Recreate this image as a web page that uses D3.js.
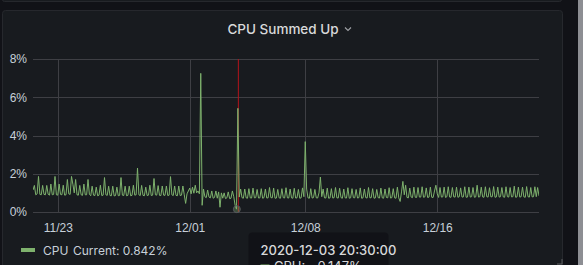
<!DOCTYPE html>
<html>
<head>
<meta charset="utf-8">
<script src="https://cdn.jsdelivr.net/npm/d3@7"></script>
<style>
  html, body { margin: 0; padding: 0; background: #111217; overflow: hidden; }
  svg { display: block; font-family: Inter, Roboto, "Noto Sans", sans-serif; }
  .tick text { fill: #c7d0d9; font-size: 12px; }
  .grid line { stroke: #3e3f44; stroke-width: 1; shape-rendering: crispEdges; }
</style>
</head>
<body>
<div id="chart"></div>
<script>
// series: CPU %, one sample every 2 hours from 2020-11-21 12:00
const seriesName = "CPU";
const seriesStart = new Date(2020, 10, 21, 12, 0, 0);
const stepHours = 2;
const cpuValues = [
  // 11/21 (from 12:00)
  1.15, 1.39, 0.90, 0.95, 1.86, 0.92,
  // 11/22
  0.90, 1.39, 0.92, 0.90, 1.39, 0.93, 0.88, 1.46, 0.90, 0.92, 1.86, 0.90,
  // 11/23
  0.88, 1.46, 0.92, 0.90, 1.40, 0.88, 0.90, 1.70, 0.95, 0.92, 1.86, 1.45,
  // 11/24
  1.00, 1.70, 0.90, 0.88, 1.39, 0.90, 0.87, 1.46, 0.90, 0.90, 1.70, 0.92,
  // 11/25
  0.85, 1.35, 0.88, 0.86, 1.30, 0.85, 0.88, 1.40, 0.86, 0.88, 1.80, 0.90,
  // 11/26
  0.87, 1.35, 0.86, 0.85, 1.35, 0.84, 0.86, 1.30, 0.85, 0.87, 1.80, 0.88,
  // 11/27
  0.86, 1.35, 0.85, 0.87, 1.35, 0.85, 0.87, 1.40, 0.88, 0.90, 2.30, 0.90,
  // 11/28
  0.86, 1.39, 0.87, 0.85, 1.30, 0.86, 0.88, 1.40, 0.86, 0.88, 1.75, 0.90,
  // 11/29
  0.88, 1.38, 0.87, 0.86, 1.36, 0.88, 0.87, 1.36, 0.86, 0.88, 1.85, 0.90,
  // 11/30
  0.86, 1.36, 0.87, 0.85, 1.36, 0.86, 0.88, 1.36, 0.90, 0.45, 0.95, 1.10,
  // 12/01
  1.25, 0.95, 1.30, 0.98, 1.40, 1.00, 1.10, 0.95, 7.25, 0.35, 1.20, 0.80,
  // 12/02
  0.75, 1.15, 0.78, 0.74, 1.10, 0.72, 0.76, 1.10, 0.72, 1.05, 0.25, 1.00,
  // 12/03
  0.72, 1.00, 0.70, 0.74, 1.05, 0.70, 0.72, 1.10, 0.80, 0.35, 0.15, 5.42,
  // 12/04
  0.78, 1.20, 0.75, 0.72, 1.20, 0.74, 0.72, 1.22, 0.74, 0.73, 1.25, 0.74,
  // 12/05
  0.75, 1.18, 0.73, 0.74, 1.22, 0.72, 0.75, 1.20, 0.73, 0.74, 1.28, 0.75,
  // 12/06
  0.74, 1.25, 0.72, 0.73, 1.18, 0.74, 0.72, 1.22, 0.75, 0.73, 1.27, 0.74,
  // 12/07
  0.73, 1.20, 0.74, 0.72, 1.24, 0.73, 0.74, 1.18, 0.72, 0.74, 1.26, 0.80,
  // 12/08
  3.68, 1.20, 0.74, 0.72, 1.22, 0.73, 0.75, 1.18, 0.74, 0.73, 1.00, 1.83,
  // 12/09
  0.80, 1.20, 0.74, 0.73, 1.25, 0.72, 0.74, 1.22, 0.73, 0.75, 1.28, 0.74,
  // 12/10
  0.73, 1.24, 0.75, 0.72, 1.20, 0.74, 0.73, 1.27, 0.72, 0.74, 1.22, 0.75,
  // 12/11
  0.74, 1.18, 0.73, 0.75, 1.26, 0.72, 0.74, 1.20, 0.75, 0.73, 1.28, 0.74,
  // 12/12
  0.75, 1.22, 0.72, 0.74, 1.18, 0.75, 0.73, 1.25, 0.74, 0.72, 1.20, 0.76,
  // 12/13
  0.74, 1.27, 0.73, 0.75, 1.22, 0.74, 0.72, 1.30, 0.74, 0.55, 1.05, 1.60,
  // 12/14
  0.90, 1.40, 0.76, 0.74, 1.25, 0.78, 0.75, 1.30, 0.77, 0.76, 1.28, 0.78,
  // 12/15
  0.78, 1.32, 0.77, 0.79, 1.26, 0.76, 0.78, 1.30, 0.77, 0.76, 1.10, 1.40,
  // 12/16
  0.95, 0.76, 1.28, 0.78, 0.79, 1.30, 0.76, 0.80, 1.32, 0.78, 0.77, 1.28,
  // 12/17
  0.79, 0.78, 1.30, 0.77, 0.80, 1.26, 0.78, 0.79, 1.32, 0.77, 0.78, 1.30,
  // 12/18
  0.78, 0.80, 1.28, 0.77, 0.79, 1.40, 0.78, 0.80, 1.30, 0.79, 0.77, 1.32,
  // 12/19
  0.80, 0.78, 1.27, 0.79, 0.80, 1.33, 0.77, 0.79, 1.30, 0.78, 0.80, 1.28,
  // 12/20
  0.79, 0.77, 1.32, 0.80, 0.78, 1.28, 0.79, 0.80, 1.35, 0.77, 0.79, 1.30,
  // 12/21
  0.78, 0.80, 1.30, 0.79, 0.77, 1.33, 0.80, 0.78, 1.28, 0.79, 0.80, 1.32,
  // 12/22 (to 04:00)
  0.80, 1.28, 0.842
];

const yTicks = [0, 2, 4, 6, 8];
const xTickDates = [new Date(2020, 10, 23), new Date(2020, 11, 1), new Date(2020, 11, 8), new Date(2020, 11, 16)];

// hovered sample shown in the tooltip
const hoverTime = new Date(2020, 11, 3, 20, 30, 0);
const hoverValue = 0.147;

const W = 583, H = 265;
const plot = { left: 33, right: 539, top: 59, bottom: 212 };

const data = cpuValues.map((v, i) => ({
  time: d3.timeHour.offset(seriesStart, i * stepHours),
  value: v
}));

const x = d3.scaleTime()
  .domain(d3.extent(data, d => d.time))
  .range([plot.left, plot.right]);

const y = d3.scaleLinear()
  .domain([0, 8])
  .range([plot.bottom, plot.top]);

const svg = d3.select("#chart").append("svg")
  .attr("width", W)
  .attr("height", H);

// panels
svg.append("rect")
  .attr("x", 2.5).attr("y", -12).attr("width", 559).attr("height", 13.5)
  .attr("rx", 2).attr("fill", "#181b1f").attr("stroke", "#26282d");

svg.append("rect")
  .attr("x", 2.5).attr("y", 10.5).attr("width", 560).attr("height", 275)
  .attr("rx", 3).attr("fill", "#181b1f").attr("stroke", "#26282d");

svg.append("rect")
  .attr("x", 578).attr("y", 0).attr("width", 5).attr("height", H)
  .attr("fill", "#8d8e93");

// title
svg.append("text")
  .attr("x", 283).attr("y", 34)
  .attr("text-anchor", "middle")
  .attr("fill", "#d8d9da")
  .attr("font-size", 13.5)
  .attr("font-weight", 500)
  .text("CPU Summed Up");

svg.append("path")
  .attr("d", "M345,27.5 l3,3 l3,-3")
  .attr("fill", "none")
  .attr("stroke", "#9fa1a6")
  .attr("stroke-width", 1.1);

// grid
svg.append("g")
  .attr("class", "grid")
  .selectAll("line.h")
  .data(yTicks)
  .join("line")
  .attr("x1", plot.left).attr("x2", plot.right)
  .attr("y1", d => Math.round(y(d)) + 0.5).attr("y2", d => Math.round(y(d)) + 0.5);

svg.select(".grid")
  .selectAll("line.v")
  .data(xTickDates)
  .join("line")
  .attr("class", "v")
  .attr("x1", d => Math.round(x(d)) + 0.5).attr("x2", d => Math.round(x(d)) + 0.5)
  .attr("y1", plot.top).attr("y2", plot.bottom);

// axes
const yAxis = svg.append("g")
  .attr("transform", `translate(${plot.left},0)`)
  .call(d3.axisLeft(y).tickValues(yTicks).tickSize(0).tickPadding(6).tickFormat(d => d + "%"));
yAxis.select(".domain").remove();

const xAxis = svg.append("g")
  .attr("transform", `translate(0,${plot.bottom})`)
  .call(d3.axisBottom(x).tickValues(xTickDates).tickSize(0).tickPadding(11).tickFormat(d3.timeFormat("%m/%d")));
xAxis.select(".domain").remove();

// hover line, under the series
svg.append("line")
  .attr("x1", x(hoverTime) + 1.5).attr("x2", x(hoverTime) + 1.5)
  .attr("y1", plot.top).attr("y2", plot.bottom)
  .attr("stroke", "#b3141c")
  .attr("stroke-width", 1);

// line
svg.append("clipPath").attr("id", "clip")
  .append("rect")
  .attr("x", plot.left).attr("y", plot.top - 2)
  .attr("width", plot.right - plot.left).attr("height", plot.bottom - plot.top + 2);

const line = d3.line()
  .x(d => x(d.time))
  .y(d => y(d.value));

svg.append("path")
  .datum(data)
  .attr("clip-path", "url(#clip)")
  .attr("fill", "none")
  .attr("stroke", "#7eb26d")
  .attr("stroke-width", 1)
  .attr("d", line);

svg.append("circle")
  .attr("cx", x(hoverTime)).attr("cy", y(hoverValue))
  .attr("r", 3.5)
  .attr("fill", "#7eb26d")
  .attr("fill-opacity", 0.35)
  .attr("stroke", "#55575c")
  .attr("stroke-width", 1);

// legend
const current = cpuValues[cpuValues.length - 1];
const legend = svg.append("g").attr("transform", "translate(21,250)");
legend.append("rect")
  .attr("x", 0).attr("y", -2).attr("width", 14).attr("height", 4)
  .attr("fill", "#7eb26d");
legend.append("text")
  .attr("x", 22).attr("y", 4.5)
  .attr("fill", "#c7d0d9").attr("font-size", 12)
  .text(seriesName);
legend.append("text")
  .attr("x", 52).attr("y", 4.5)
  .attr("fill", "#c7d0d9").attr("font-size", 12)
  .text("Current: " + d3.format(".3f")(current) + "%");

// tooltip (partly below the window, as in the panel)
const tip = svg.append("g").attr("transform", "translate(248.5,232.5)");
tip.append("rect")
  .attr("width", 140).attr("height", 50).attr("rx", 4)
  .attr("fill", "#111217");
tip.append("text")
  .attr("x", 12).attr("y", 22.5)
  .attr("fill", "#d8d9da").attr("font-size", 13).attr("font-weight", 500)
  .text(d3.timeFormat("%Y-%m-%d %H:%M:%S")(hoverTime));
tip.append("rect")
  .attr("x", 12).attr("y", 32).attr("width", 9).attr("height", 3)
  .attr("fill", "#7eb26d");
tip.append("text")
  .attr("x", 25.5).attr("y", 38.5)
  .attr("fill", "#d8d9da").attr("font-size", 13)
  .text(seriesName + ":");
tip.append("text")
  .attr("x", 69).attr("y", 38.5)
  .attr("fill", "#d8d9da").attr("font-size", 13)
  .text(d3.format(".3f")(hoverValue) + "%");

// resize handle
svg.append("path")
  .attr("d", "M562,259 v5 h-5")
  .attr("fill", "none")
  .attr("stroke", "#5a5c61")
  .attr("stroke-width", 1);
</script>
</body>
</html>
